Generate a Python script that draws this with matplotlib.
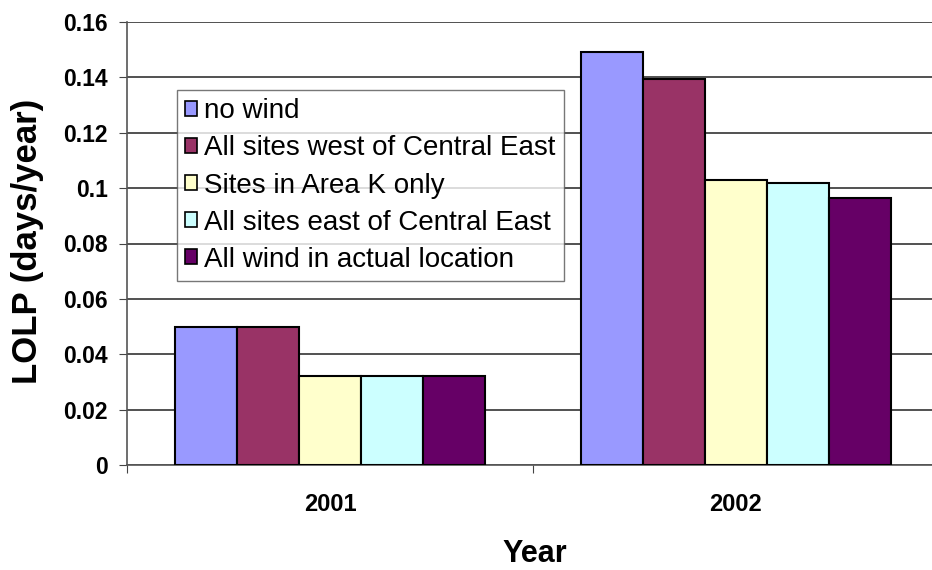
import matplotlib
matplotlib.use("Agg")
import matplotlib.pyplot as plt
import numpy as np

plt.rcParams['font.family'] = ['Liberation Sans', 'DejaVu Sans']

years = ["2001", "2002"]
series = ["no wind", "All sites west of Central East", "Sites in Area K only",
          "All sites east of Central East", "All wind in actual location"]
values = {
    "no wind": [0.050, 0.149],
    "All sites west of Central East": [0.050, 0.1395],
    "Sites in Area K only": [0.032, 0.103],
    "All sites east of Central East": [0.032, 0.102],
    "All wind in actual location": [0.032, 0.0965],
}
colors = ["#9999FF", "#993366", "#FFFFCC", "#CCFFFF", "#660066"]
yticks = [0, 0.02, 0.04, 0.06, 0.08, 0.1, 0.12, 0.14, 0.16]
ytick_labels = ["0", "0.02", "0.04", "0.06", "0.08", "0.1", "0.12", "0.14", "0.16"]

W, H = 932, 570
fig = plt.figure(figsize=(W / 100, H / 100), dpi=100)
ax = fig.add_axes([127 / W, 105 / H, 812 / W, 443 / H])

x = np.arange(len(years))
bw = 0.153
n = len(series)
for i, (s, c) in enumerate(zip(series, colors)):
    offs = (i - (n - 1) / 2) * bw
    ax.bar(x + offs, values[s], width=bw, color=c, edgecolor="black",
           linewidth=1.5, label=s, zorder=3)

ax.set_xlim(-0.5, 1.5)
ax.set_ylim(0, 0.16)
ax.set_yticks(yticks)
ax.set_yticklabels(ytick_labels, fontsize=16.5, fontweight="bold")
ax.yaxis.grid(True, color="#333333", linewidth=1.2, zorder=0)
ax.set_axisbelow(True)

ax.set_xticks([-0.5, 0.5, 1.5])
ax.set_xticklabels([])
ax.set_xticks(x, minor=True)
ax.set_xticklabels(years, minor=True, fontsize=17, fontweight="bold")
ax.tick_params(axis="x", which="minor", length=0, pad=20)
ax.tick_params(axis="x", which="major", length=6, direction="out", color="#444444")
ax.tick_params(axis="y", length=6, direction="out", color="#444444", pad=8)

for side in ["top", "right"]:
    ax.spines[side].set_visible(False)
ax.spines["left"].set_color("#555555")
ax.spines["bottom"].set_color("#555555")
ax.spines["left"].set_linewidth(1.2)
ax.spines["bottom"].set_linewidth(1.2)

fig.text(28 / W, 1 - 241 / H, "LOLP (days/year)", rotation=90, ha="center",
         va="center", fontsize=25, fontweight="bold")
fig.text(535 / W, 1 - 554 / H, "Year", ha="center", va="center",
         fontsize=22, fontweight="bold")

leg = ax.legend(loc="upper left", bbox_to_anchor=(177 / W, 1 - 90 / H),
                bbox_transform=fig.transFigure, fontsize=20, frameon=True,
                fancybox=False, edgecolor="#555555", handlelength=0.42,
                handleheight=0.45, handletextpad=0.25, labelspacing=0.4,
                borderpad=0.3, borderaxespad=0)
leg.get_frame().set_linewidth(1.0)
for h in leg.legend_handles:
    h.set_linewidth(1.2)

fig.savefig("out.png", dpi=100)
